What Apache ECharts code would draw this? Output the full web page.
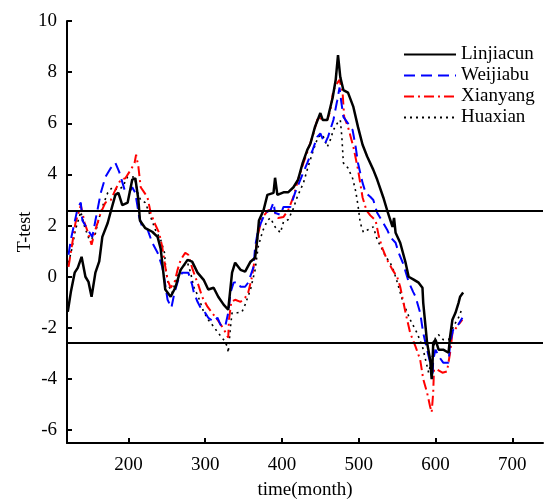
<!DOCTYPE html>
<html><head><meta charset="utf-8">
<script src="https://cdn.jsdelivr.net/npm/echarts@6/dist/echarts.min.js"></script>
<style>html,body{margin:0;padding:0;background:#fff}#c{width:545px;height:500px}</style>
</head><body><div id="c"></div>
<script>
var seriesNames = ['Linjiacun','Weijiabu','Xianyang','Huaxian'];
var xTicks = [200,300,400,500,600,700];
var yTicks = [-6,-4,-2,0,2,4,6,8,10];
var criticalValues = [2.58, -2.58];

var linMonths = [121,125,130,134,139,144,148,152,157,162,166,173,177,183,187,192,199,205,209,213,215,222,231,238,242,248,255,261,268,277,283,290,298,304,311,317,324,330,335,339,346,352,359,365,368,370,376,381,389,391,394,402,408,415,421,427,433,437,443,450,453,459,466,470,473,476,480,486,493,499,505,511,519,524,532,537,544,546,548,554,561,565,571,578,583,584,587,589,593,595,596,597,600,604,610,617,619,622,626,630,632,636];
var linValues = [-1.37,-0.6,0.16,0.35,0.78,0,-0.2,-0.78,0.16,0.6,1.56,2.1,2.55,3.2,3.28,2.8,2.9,3.8,3.85,3.0,2.2,1.9,1.76,1.56,1.1,-0.5,-0.78,-0.43,0.27,0.66,0.59,0.16,-0.12,-0.5,-0.43,-0.78,-1.09,-1.29,0.16,0.55,0.27,0.2,0.59,0.74,1.5,2.2,2.6,3.2,3.28,3.87,3.2,3.3,3.3,3.5,3.8,4.45,4.96,5.2,5.86,6.4,6.13,6.13,7.0,7.7,8.67,7.8,7.3,7.2,6.64,5.86,5.16,4.7,4.18,3.8,3.1,2.6,1.95,2.3,1.72,1.33,0.55,0,-0.1,-0.23,-0.43,-1.02,-1.95,-2.58,-3.24,-4.0,-3.5,-2.58,-2.46,-2.85,-2.85,-2.97,-2.34,-1.68,-1.41,-1.02,-0.78,-0.62];

var weiMonths = [122,125,130,134,138,140,147,153,157,164,170,177,183,188,195,201,205,209,214,218,225,231,238,244,247,251,256,260,265,270,278,283,285,290,294,300,304,311,316,320,326,330,333,337,342,346,352,356,363,365,369,378,385,389,391,398,402,411,417,424,433,440,446,450,456,460,467,472,475,477,480,486,492,496,499,505,509,515,519,524,532,537,541,548,552,558,565,571,574,580,584,589,593,596,597,600,604,610,617,619,623,628,635];
var weiValues = [0.86,1.45,2.15,2.7,2.9,2.2,1.84,1.56,2.2,3.28,3.9,4.25,4.45,4.1,3.4,3.3,3.5,3.28,2.34,1.95,1.84,1.33,0.94,0.39,-0.12,-0.9,-1.21,-0.62,-0.12,0.16,0.16,-0.31,-0.59,-0.98,-1.21,-1.41,-1.6,-1.76,-1.6,-1.88,-1.95,-1.41,-0.62,-0.23,-0.2,-0.39,-0.39,-0.23,0.39,1.17,1.84,2.5,2.6,2.9,2.5,2.42,2.73,2.73,3.28,3.8,4.45,4.96,5.47,5.6,5.2,5.47,6.13,6.9,7.4,6.9,6.25,6.0,5.74,5.08,4.45,3.67,3.28,3.13,3.0,2.5,2.1,1.84,1.56,1.33,0.94,0.5,-0.2,-0.6,-0.78,-1.41,-2.2,-2.85,-3.36,-4.0,-3.24,-2.85,-3.1,-3.36,-3.36,-2.58,-2.07,-1.95,-1.6];

var xiaMonths = [122,127,131,138,143,147,152,157,164,170,177,183,190,196,203,208,210,213,216,221,225,229,234,240,244,248,251,255,260,264,268,274,278,283,287,291,296,303,309,316,322,326,330,331,334,339,346,352,356,361,365,368,374,382,389,395,402,408,415,421,428,434,441,447,453,459,463,467,472,475,479,481,486,493,499,505,510,515,522,526,531,537,544,550,554,561,567,574,580,584,589,593,595,597,598,602,609,615,619,622,628,635];
var xiaValues = [0.39,1.33,2.1,2.8,2.1,1.76,1.25,1.84,2.5,2.9,3.0,3.4,3.8,3.85,4.18,4.45,4.77,4.3,3.5,3.28,3.08,2.5,2.1,1.72,1.17,0.39,-0.12,-0.43,-0.23,0.27,0.66,0.94,0.86,0.35,0,-0.31,-0.78,-1.17,-1.41,-1.68,-1.95,-2.15,-2.38,-1.68,-0.98,-0.9,-0.98,-0.82,-0.62,0,0.78,1.56,2.3,2.6,2.6,2.3,2.34,2.6,3.13,3.8,4.45,4.96,5.6,6.25,6.13,6.13,6.5,7.3,7.57,7.7,7.2,6.25,5.86,5.08,4.2,3.1,2.6,2.4,2.2,1.6,1.1,0.66,0.27,0,-0.39,-1.41,-2.2,-2.73,-3.24,-4.0,-4.53,-5.08,-5.3,-4.53,-3.63,-3.63,-3.75,-3.7,-2.97,-2.2,-1.95,-1.68];

var huaMonths = [122,126,131,138,143,149,156,160,166,173,179,186,192,199,208,212,216,222,229,235,242,247,249,253,257,261,266,270,277,281,285,291,298,304,311,317,324,329,330,333,335,342,348,352,359,365,369,375,381,385,391,398,402,408,414,420,428,434,441,447,453,459,463,467,472,476,478,480,486,492,496,499,502,506,512,519,524,531,535,541,545,548,558,567,576,583,587,591,593,597,600,604,610,617,619,623,630,635];
var huaValues = [0.55,1.05,1.84,2.54,1.95,1.45,1.56,2.1,2.73,3.28,3.5,3.4,3.5,3.9,3.9,3.28,3.0,2.9,2.34,1.84,1.45,0.94,0.16,-0.39,-0.62,-0.23,0.16,0.39,0.55,0.16,-0.39,-0.78,-1.37,-1.68,-1.95,-2.2,-2.46,-2.73,-2.97,-1.95,-1.41,-1.41,-1.37,-1.09,-0.5,0.27,1.17,1.8,2.2,2.3,1.95,1.72,2.15,2.23,2.6,3.13,3.67,4.3,4.96,5.47,5.55,5.08,5.35,5.74,6.0,6.13,5.47,4.45,4.25,3.85,3.35,2.8,2.1,1.74,1.84,1.95,1.45,1.05,0.78,0.55,0.27,0,-1.02,-1.68,-2.2,-2.73,-3.24,-3.75,-3.5,-2.97,-2.34,-2.27,-2.46,-2.46,-2.34,-1.95,-1.6,-1.21];

function zip(xs, ys){ return xs.map(function(x,i){ return [x, ys[i]]; }); }

var font = 'Liberation Serif';
var chart = echarts.init(document.getElementById('c'), null, {renderer:'canvas'});
var styles = [
  {color:'#000000', width:2.5, type:'solid'},
  {color:'#0000ff', width:2, type:[11,6]},
  {color:'#ff0000', width:2, type:[10,4,2,4]},
  {color:'#000000', width:1.6, type:[2,4]}
];
var dataSets = [zip(linMonths,linValues), zip(weiMonths,weiValues), zip(xiaMonths,xiaValues), zip(huaMonths,huaValues)];
var series = seriesNames.map(function(n,i){
  return {
    name:n, type:'line', data:dataSets[i], symbol:'none', showSymbol:false,
    lineStyle:{color:styles[i].color, width:styles[i].width, type:styles[i].type},
    itemStyle:{color:styles[i].color},
    z: 4-i, animation:false
  };
});
series[0].markLine = {
  silent:true, symbol:['none','none'], label:{show:false}, animation:false,
  lineStyle:{color:'#000', width:2, type:'solid'},
  data: criticalValues.map(function(v){ return {yAxis:v}; })
};

chart.setOption({
  animation:false,
  backgroundColor:'#fff',
  grid:{left:67, right:2, top:21, bottom:57, containLabel:false, outerBoundsMode:'none'},
  legend:{
    orient:'vertical', left:398, top:40, itemWidth:52, itemHeight:12, itemGap:2,
    itemStyle:{opacity:0},
    textStyle:{fontFamily:font, fontSize:19, color:'#000'},
    data:seriesNames
  },
  xAxis:{
    type:'value', min:120, max:740,
    name:'time(month)', nameLocation:'middle', nameGap:38, nameMoveOverlap:false,
    nameTextStyle:{fontFamily:font, fontSize:19, color:'#000'},
    axisLine:{show:true, onZero:false, lineStyle:{color:'#000', width:2}},
    axisTick:{show:true, inside:true, length:5, customValues:xTicks, lineStyle:{color:'#000', width:2}},
    axisLabel:{customValues:xTicks, fontFamily:font, fontSize:19, color:'#000', margin:13},
    splitLine:{show:false}
  },
  yAxis:{
    type:'value', min:-6.5, max:10,
    name:'T-test', nameLocation:'middle', nameGap:33, nameRotate:90, nameMoveOverlap:false,
    nameTextStyle:{fontFamily:font, fontSize:18, color:'#000'},
    axisLine:{show:true, onZero:false, lineStyle:{color:'#000', width:2}},
    axisTick:{show:true, inside:true, length:5, customValues:yTicks, lineStyle:{color:'#000', width:2}},
    axisLabel:{customValues:yTicks, fontFamily:font, fontSize:19, color:'#000', margin:10},
    splitLine:{show:false}
  },
  series:series
});
</script></body></html>
